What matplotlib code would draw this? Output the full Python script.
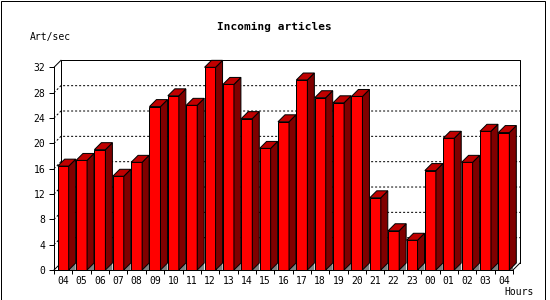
import matplotlib.pyplot as plt
from matplotlib.patches import Polygon, Rectangle
import numpy as np

# data
hours = ["04", "05", "06", "07", "08", "09", "10", "11", "12", "13", "14", "15", "16",
         "17", "18", "19", "20", "21", "22", "23", "00", "01", "02", "03", "04"]
rates = [16.4, 17.3, 19.0, 14.8, 17.0, 25.8, 27.5, 26.0, 32.0, 29.3, 23.9, 19.2, 23.4,
         30.0, 27.2, 26.4, 27.4, 11.4, 6.2, 4.7, 15.7, 20.8, 17.0, 21.9, 21.7]
yticks = [0, 4, 8, 12, 16, 20, 24, 28, 32]

#3d look: depth in data units
DX = 0.38
DY = 1.1
BW = 0.6
LW = 0.72   # 1 pixel

plt.rcParams['font.family'] = ['DejaVu Sans Mono']
plt.rcParams['font.size'] = 7

fig = plt.figure(figsize=(5.5, 3), dpi=100)
ax = fig.add_axes([54/550, 30/300, 459/550, 202.7/300])
n = len(hours)
ymax = yticks[-1]
ax.set_xlim(0, n)
ax.set_ylim(0, ymax)

#back wall
ax.plot([DX, DX, n+DX, n+DX], [DY, ymax+DY, ymax+DY, DY], color='k', lw=LW, clip_on=False, zorder=1)
ax.plot([0, DX], [ymax, ymax+DY], color='k', lw=LW, clip_on=False, zorder=1)
ax.plot([0, DX], [0, DY], color='k', lw=LW, clip_on=False, zorder=1)
ax.plot([n, n+DX], [0, DY], color='k', lw=LW, clip_on=False, zorder=1)
for v in yticks[1:-1]:
    ax.plot([0, DX, n+DX], [v, v+DY, v+DY], color='k', lw=LW, ls=(0, (2, 2)), clip_on=False, zorder=1)

#bars
x = np.arange(n) + 0.5
ax.bar(x, rates, width=BW, color='#ff0000', edgecolor='k', lw=LW, zorder=3)
for xi, v in zip(x, rates):
    xl, xr = xi - BW/2, xi + BW/2
    ax.add_patch(Polygon([(xr, 0), (xr+DX, DY), (xr+DX, 0)], closed=True,
                         fc='#808080', ec='none', zorder=2))
    ax.add_patch(Polygon([(xr, 0), (xr, v), (xr+DX, v+DY), (xr+DX, DY)], closed=True,
                         fc='#800000', ec='k', lw=LW, zorder=3, clip_on=False))
    ax.add_patch(Polygon([(xl, v), (xr, v), (xr+DX, v+DY), (xl+DX, v+DY)], closed=True,
                         fc='#c00000', ec='k', lw=LW, zorder=3, clip_on=False))

ax.spines['top'].set_visible(False)
ax.spines['right'].set_visible(False)
ax.spines['left'].set_linewidth(LW)
ax.spines['bottom'].set_linewidth(LW)
ax.set_facecolor('white')

ax.set_yticks(yticks)
ax.tick_params(axis='y', length=3.6, width=LW, pad=2.5)
ax.set_xticks(np.arange(n+1))
ax.set_xticklabels([])
ax.set_xticks(x, minor=True)
ax.set_xticklabels(hours, minor=True)
ax.tick_params(axis='x', which='major', length=2.9, width=LW)
ax.tick_params(axis='x', which='minor', length=0, pad=4)

fig.text(274/550, 1-27/300, 'Incoming articles', ha='center', va='center', fontsize=8, fontweight='bold')
fig.text(30/550, 1-37/300, 'Art/sec', ha='left', va='center')
fig.text(534/550, 1-292/300, 'Hours', ha='right', va='center')

fig.add_artist(Rectangle((0.5/550, 0.5/300), 544/550, 299/300, transform=fig.transFigure,
                         fill=False, ec='k', lw=LW))

fig.savefig('out.png', dpi=100)
